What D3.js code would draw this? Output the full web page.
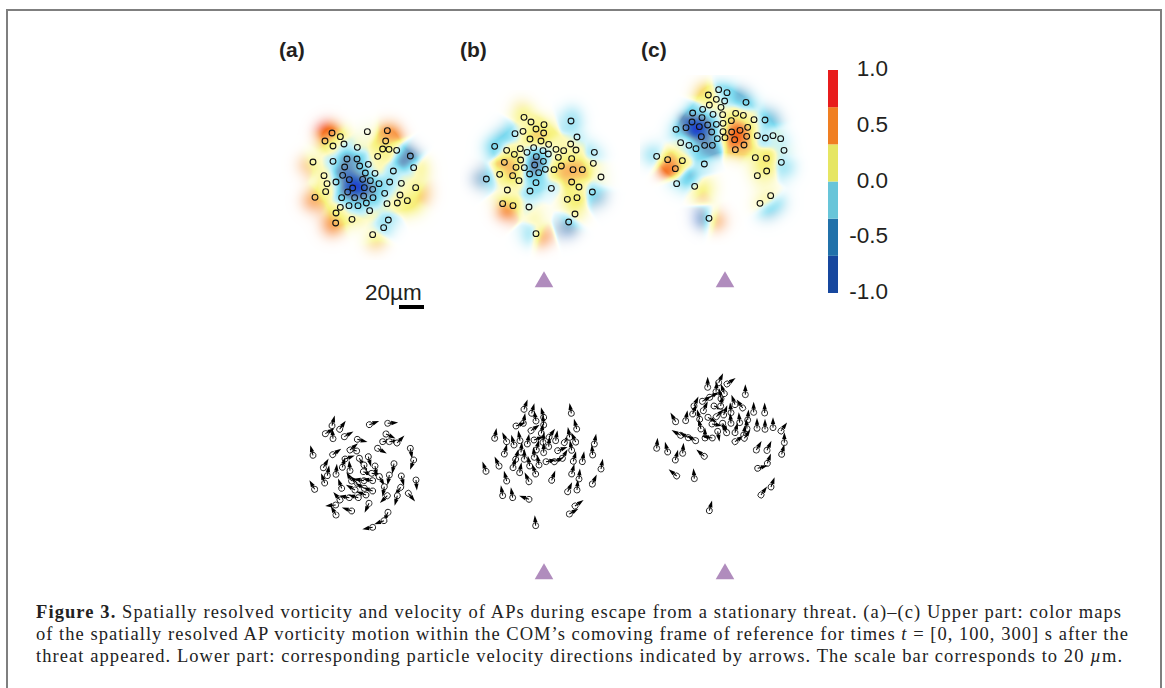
<!DOCTYPE html>
<html>
<head>
<meta charset="utf-8">
<script src="https://cdn.jsdelivr.net/npm/d3@7/dist/d3.min.js"></script>
<style>
  html, body { margin: 0; background: #fff; }
  svg { display: block; }
  text { font-family: "Liberation Sans", Arial, sans-serif; fill: #231f20; }
  .caption text { font-family: "Liberation Serif", serif; font-size: 18.5px; fill: #222; }
</style>
</head>
<body>
<svg id="fig" width="1165" height="688"></svg>
<script>
// all x,y below are in read units off the picture, 3 units = 1px
// [x, y, vorticity]
var sitesA = [[156,129,.6],[181,140,.25],[135,153,.4],[159,168,.1],[192,162,-.2],[232,172,.08],[262,125,.05],[322,122,.5],[317,153,.45],[308,177,.3],[327,178,.3],[350,181,-.1],[293,199,.1],[391,198,-.55],[401,233,-.1],[99,216,.1],[159,214,-.1],[201,207,-.55],[231,207,-.5],[265,223,.1],[194,231,-.6],[239,228,-.4],[285,250,.2],[256,249,-.4],[340,243,-.15],[132,257,.1],[188,256,-.7],[141,281,.15],[168,276,-.15],[208,269,-.75],[248,268,-.6],[271,272,-.4],[297,281,-.3],[329,276,-.2],[364,280,.05],[407,293,.15],[218,294,-.9],[253,293,-1],[278,298,-.4],[137,305,.2],[203,306,-.7],[105,322,.35],[185,323,-.25],[224,323,-.5],[251,318,-.4],[279,323,-.35],[314,310,-.15],[360,315,.05],[382,332,.35],[352,339,.2],[321,341,.05],[259,339,-.3],[234,347,-.2],[207,347,-.15],[181,352,.1],[168,369,.4],[269,362,.12],[216,388,.18],[167,399,.4],[325,390,-.2],[311,413,-.2],[278,434,.05]];
var sitesB = [[192,82,.15],[213,96,.12],[252,104,.1],[333,93,-.3],[228,117,.45],[189,124,.1],[165,131,-.15],[251,129,.4],[210,147,.5],[243,153,.55],[351,141,-.15],[104,169,-.3],[140,181,.08],[181,176,.1],[163,193,.4],[201,187,-.2],[221,173,-.2],[249,182,-.35],[266,163,.1],[265,192,.0],[288,178,.1],[311,182,.15],[332,162,.12],[348,180,.1],[403,187,-.25],[133,217,.55],[182,210,.3],[229,200,-.55],[250,214,-.3],[295,202,.15],[335,206,.4],[400,220,.1],[168,232,.55],[193,233,-.1],[224,225,-.85],[256,238,.1],[282,239,.35],[304,228,.55],[339,239,.55],[367,239,.45],[119,253,.2],[158,257,.5],[209,252,-.4],[236,248,-.35],[423,261,.05],[79,267,-.3],[177,272,.1],[228,278,-.25],[335,276,.4],[357,291,.15],[142,300,.05],[210,303,-.2],[274,295,-.1],[397,306,-.2],[322,328,.25],[351,323,.35],[128,341,.35],[159,347,.25],[207,351,-.08],[345,372,.3],[326,396,-.35],[228,431,-.1]];
var sitesC = [[236,44,-.2],[261,53,-.3],[205,60,.35],[229,73,.08],[254,78,-.25],[318,82,-.25],[208,90,.3],[243,97,.15],[188,103,-.15],[158,114,-.25],[219,118,-.2],[248,119,.12],[287,115,.2],[310,121,.2],[186,128,-.6],[342,134,.05],[375,135,-.25],[156,141,-.85],[274,137,.55],[229,148,-.3],[249,145,.2],[203,150,-.6],[108,163,-.25],[138,158,-.6],[178,155,-1],[323,157,.35],[300,166,.8],[275,171,.85],[249,170,.15],[215,171,-.6],[184,185,-.7],[232,191,-.35],[255,188,.4],[284,194,.95],[320,184,.55],[352,182,-.1],[376,189,-.2],[399,182,.05],[422,191,-.1],[122,203,.05],[147,211,-.1],[168,221,-.3],[194,211,-.55],[217,211,-.5],[312,210,.45],[286,224,.35],[432,226,-.05],[50,244,-.05],[83,254,.4],[127,257,.2],[346,248,.2],[379,250,.4],[424,262,-.1],[193,267,-.25],[106,281,.55],[380,288,.25],[352,302,.25],[110,326,-.15],[164,334,-.1],[392,362,.18],[360,385,.2],[207,430,0]];

// shading that reaches past the particles
var haloA = [[135,120,.95],[335,128,.7],[78,225,.6],[92,335,.75],[150,412,.75],[285,458,.5],[432,310,.5],[425,235,.35],[405,355,.3],[372,203,-.7],[240,292,-1],[225,292,-1]];
var haloB = [[180,50,.35],[138,365,.85],[225,375,.2],[245,440,.85],[205,435,-.3],[58,265,-.6],[320,418,-.65],[415,325,-.5],[135,130,-.35],[335,70,-.3],[95,170,-.3],[224,222,-.9]];
var haloC = [[185,45,.4],[85,275,.95],[30,235,-.35],[185,430,-.8],[232,438,.7],[182,352,.5],[140,305,-.45],[378,410,-.4],[415,385,-.35],[440,285,-.3],[395,125,-.45],[305,70,-.5],[285,180,1],[165,160,-1],[210,335,.2]];

// [x, y, heading in degrees, clockwise from up]
var arrowsA = [[96,62,15],[119,73,35],[76,86,60],[99,101,-5],[133,95,60],[172,103,105],[208,59,70],[263,55,85],[258,87,115],[248,110,80],[268,110,85],[291,114,45],[39,151,-15],[98,149,55],[233,130,120],[331,130,170],[341,165,200],[170,138,-75],[150,135,50],[135,162,70],[178,160,150],[205,155,165],[282,176,190],[225,183,170],[192,180,165],[70,188,30],[127,187,15],[82,212,10],[108,208,5],[150,197,-5],[190,200,110],[215,205,100],[238,215,150],[268,210,190],[304,213,165],[348,225,175],[44,253,-30],[74,234,-20],[125,250,-20],[155,228,-30],[172,235,-45],[192,227,-80],[218,227,-80],[253,245,190],[302,247,215],[292,272,195],[325,265,140],[262,272,225],[193,250,-60],[165,255,-60],[120,285,-40],[148,278,-80],[175,278,-75],[198,270,-70],[218,258,-70],[107,300,-95],[108,330,-30],[155,318,-70],[207,295,205],[264,322,205],[252,347,250],[218,367,260]];
var arrowsB = [[147,28,20],[170,40,15],[183,63,-10],[206,52,-15],[206,75,-5],[289,40,-10],[145,70,10],[123,78,70],[168,92,55],[199,100,10],[305,87,-15],[59,115,10],[95,125,-25],[117,135,-15],[135,122,-10],[157,132,10],[177,120,70],[204,127,5],[222,112,35],[242,122,10],[221,140,5],[268,128,35],[284,112,-10],[302,126,-25],[358,132,10],[88,162,15],[138,157,5],[184,150,15],[206,158,0],[248,152,70],[290,151,-10],[353,165,-5],[262,175,30],[238,185,65],[213,185,80],[122,178,15],[148,178,0],[178,172,-5],[192,195,-10],[164,198,-10],[114,203,15],[72,198,-25],[33,214,-20],[134,218,10],[182,222,-20],[295,184,15],[322,185,10],[378,207,10],[95,243,-15],[162,245,-25],[230,241,20],[290,222,15],[312,237,5],[352,252,25],[278,275,25],[306,270,5],[83,287,-10],[113,293,-10],[162,298,-70],[300,318,55],[283,342,60],[182,377,-5]];
var arrowsC = [[188,52,0],[221,38,25],[246,42,55],[213,65,5],[238,71,-20],[301,74,0],[228,86,-10],[194,82,60],[172,94,60],[207,108,110],[227,108,10],[147,108,25],[270,104,-20],[293,114,-35],[326,127,0],[359,129,0],[175,122,25],[143,132,20],[122,152,10],[92,155,-30],[164,148,-15],[214,140,45],[236,135,20],[189,142,120],[258,128,-5],[258,160,-5],[284,158,-5],[308,150,5],[306,176,-5],[336,175,0],[360,178,0],[384,173,0],[408,183,35],[201,162,100],[233,160,150],[168,177,-15],[218,184,170],[245,188,-30],[270,188,15],[296,195,10],[107,196,-60],[130,203,-60],[152,212,-60],[180,204,0],[202,204,-80],[270,215,55],[298,205,35],[418,218,0],[35,235,5],[68,246,-15],[113,250,5],[91,270,15],[178,259,-50],[334,240,30],[366,241,25],[410,253,15],[367,280,20],[338,295,75],[95,318,-50],[148,326,-5],[378,351,20],[348,375,35],[193,422,15]];

var barTicks = [1, 0.5, 0, -0.5, -1];
var barEdges = [-1, -2/3, -1/3, 0, 1/3, 2/3, 1];
var barColors = ["#17479e", "#2171aa", "#68c5d9", "#e6e663", "#f07f22", "#e81c1c"];
var fieldStops = [-1, -.8, -.55, -.3, -.08, .08, .3, .55, .8, 1];
var fieldColors = ["#1212e6", "#2a5cc4", "#6a98c0", "#7cdaf0", "#c6f2f9", "#fdfabc", "#f7f27e", "#f9a858", "#f4681c", "#ee1010"];
var panelLabels = ["(a)", "(b)", "(c)"];
var threatPanels = [1, 2];

var svg = d3.select("#fig");

var frame = svg.append("path")
  .attr("d", "M7,688V10H1161V688")
  .attr("fill", "none")
  .attr("stroke", "#7f7f7f")
  .attr("stroke-width", 2);

var panels = [
  {sites: sitesA, halo: haloA, arrows: arrowsA, mapX: 280, mapY: 90, velX: 300, velY: 405, labelX: 279},
  {sites: sitesB, halo: haloB, arrows: arrowsB, mapX: 460, mapY: 90, velX: 475, velY: 400, labelX: 460},
  {sites: sitesC, halo: haloC, arrows: arrowsC, mapX: 640, mapY: 75, velX: 645, velY: 370, labelX: 641}
];

var fieldColor = d3.scaleLinear().domain(fieldStops).range(fieldColors).clamp(true);
var unit = d3.scaleLinear().domain([0, 510]).range([0, 170]);

// vorticity map: tight gaussian average for the colour, a wider one for the fade to white
function fieldImage(points) {
  var size = 170, sigmaColor = 6, sigmaFade = 10;
  var canvas = document.createElement("canvas");
  canvas.width = size; canvas.height = size;
  var ctx = canvas.getContext("2d");
  var img = ctx.createImageData(size, size);
  for (var py = 0; py < size; py++) {
    for (var px = 0; px < size; px++) {
      var sw = 0, sv = 0, fade = 0;
      points.forEach(function(p) {
        var dx = unit(p[0]) - px, dy = unit(p[1]) - py;
        var d2 = dx * dx + dy * dy;
        var w = Math.exp(-d2 / (2 * sigmaColor * sigmaColor));
        sw += w;
        sv += w * p[2];
        fade += Math.exp(-d2 / (2 * sigmaFade * sigmaFade));
      });
      var c = d3.rgb(fieldColor(sw > 1e-9 ? sv / sw : 0));
      var i = (py * size + px) * 4;
      img.data[i] = c.r;
      img.data[i + 1] = c.g;
      img.data[i + 2] = c.b;
      img.data[i + 3] = 255 * Math.min(1, Math.pow(fade * 0.36, 1.5));
    }
  }
  ctx.putImageData(img, 0, 0);
  return canvas.toDataURL();
}

panels.forEach(function(panel, idx) {
  var map = svg.append("g")
    .attr("transform", "translate(" + panel.mapX + "," + panel.mapY + ")");

  map.append("image")
    .attr("width", 170)
    .attr("height", 170)
    .attr("href", fieldImage(panel.sites.concat(panel.halo)));

  map.selectAll("circle")
    .data(panel.sites)
    .enter().append("circle")
    .attr("cx", function(d) { return unit(d[0]); })
    .attr("cy", function(d) { return unit(d[1]); })
    .attr("r", 2.9)
    .attr("fill", "none")
    .attr("stroke", "#111")
    .attr("stroke-width", 1.1);

  var vel = svg.append("g")
    .attr("transform", "translate(" + panel.velX + "," + panel.velY + ")");

  var arrow = vel.selectAll("g")
    .data(panel.arrows)
    .enter().append("g")
    .attr("transform", function(d) {
      return "translate(" + unit(d[0]) + "," + unit(d[1]) + ") rotate(" + d[2] + ")";
    });

  arrow.append("circle")
    .attr("r", 3)
    .attr("fill", "#fff")
    .attr("stroke", "#222")
    .attr("stroke-width", 0.9);

  arrow.append("path")
    .attr("d", "M0,0V-4.5")
    .attr("stroke", "#000")
    .attr("stroke-width", 1);

  arrow.append("path")
    .attr("d", "M-2.2,-3.6L0,-10.5L2.2,-3.6Z")
    .attr("fill", "#000");

  svg.append("text")
    .attr("x", panel.labelX)
    .attr("y", 57)
    .attr("font-size", 21)
    .attr("font-weight", "bold")
    .text(panelLabels[idx]);
});

// threat markers
[282, 574].forEach(function(cy) {
  threatPanels.forEach(function(p) {
    var cx = p === 1 ? 544 : 725;
    svg.append("path")
      .attr("d", d3.symbol().type(d3.symbolTriangle).size(150))
      .attr("transform", "translate(" + cx + "," + cy + ")")
      .attr("fill", "#b08cbd");
  });
});

// scale bar
svg.append("text").attr("x", 365).attr("y", 300).attr("font-size", 22.5).text("20µm");
svg.append("rect").attr("x", 399).attr("y", 305).attr("width", 25).attr("height", 4).attr("fill", "#000");

// colour bar
var barY = d3.scaleLinear().domain([-1, 1]).range([293, 70]);
var bar = svg.append("g");

bar.selectAll("rect")
  .data(barColors)
  .enter().append("rect")
  .attr("x", 828)
  .attr("width", 10)
  .attr("y", function(d, i) { return barY(barEdges[i + 1]); })
  .attr("height", function(d, i) { return barY(barEdges[i]) - barY(barEdges[i + 1]); })
  .attr("fill", function(d) { return d; });

var barAxis = d3.axisRight(barY)
  .tickValues(barTicks)
  .tickSize(0)
  .tickPadding(20)
  .tickFormat(d3.format(".1f"));

var axisG = svg.append("g")
  .attr("transform", "translate(838,0)")
  .call(barAxis);
axisG.select(".domain").remove();
axisG.selectAll("text")
  .attr("font-size", 22.5)
  .attr("font-family", null)
  .attr("text-anchor", "end")
  .attr("x", 50)
  .attr("dy", "0.25em")
  .text(function(d) { return d3.format(".1f")(d).replace("−", "-"); });

// caption
var caption = svg.append("g").attr("class", "caption");

var line1 = caption.append("text").attr("x", 36).attr("y", 618).attr("textLength", 1085);
line1.append("tspan").attr("font-weight", "bold").text("Figure 3.");
line1.append("tspan").text("  Spatially resolved vorticity and velocity of APs during escape from a stationary threat. (a)–(c) Upper part: color maps");

var line2 = caption.append("text").attr("x", 36).attr("y", 640).attr("textLength", 1092);
line2.append("tspan").text("of the spatially resolved AP vorticity motion within the COM’s comoving frame of reference for times ");
line2.append("tspan").attr("font-style", "italic").text("t");
line2.append("tspan").text(" = [0, 100, 300] s after the");

var line3 = caption.append("text").attr("x", 36).attr("y", 662).attr("textLength", 1086);
line3.append("tspan").text("threat appeared. Lower part: corresponding particle velocity directions indicated by arrows. The scale bar corresponds to 20 ");
line3.append("tspan").attr("font-style", "italic").text("µ");
line3.append("tspan").text("m.");
</script>
</body>
</html>
